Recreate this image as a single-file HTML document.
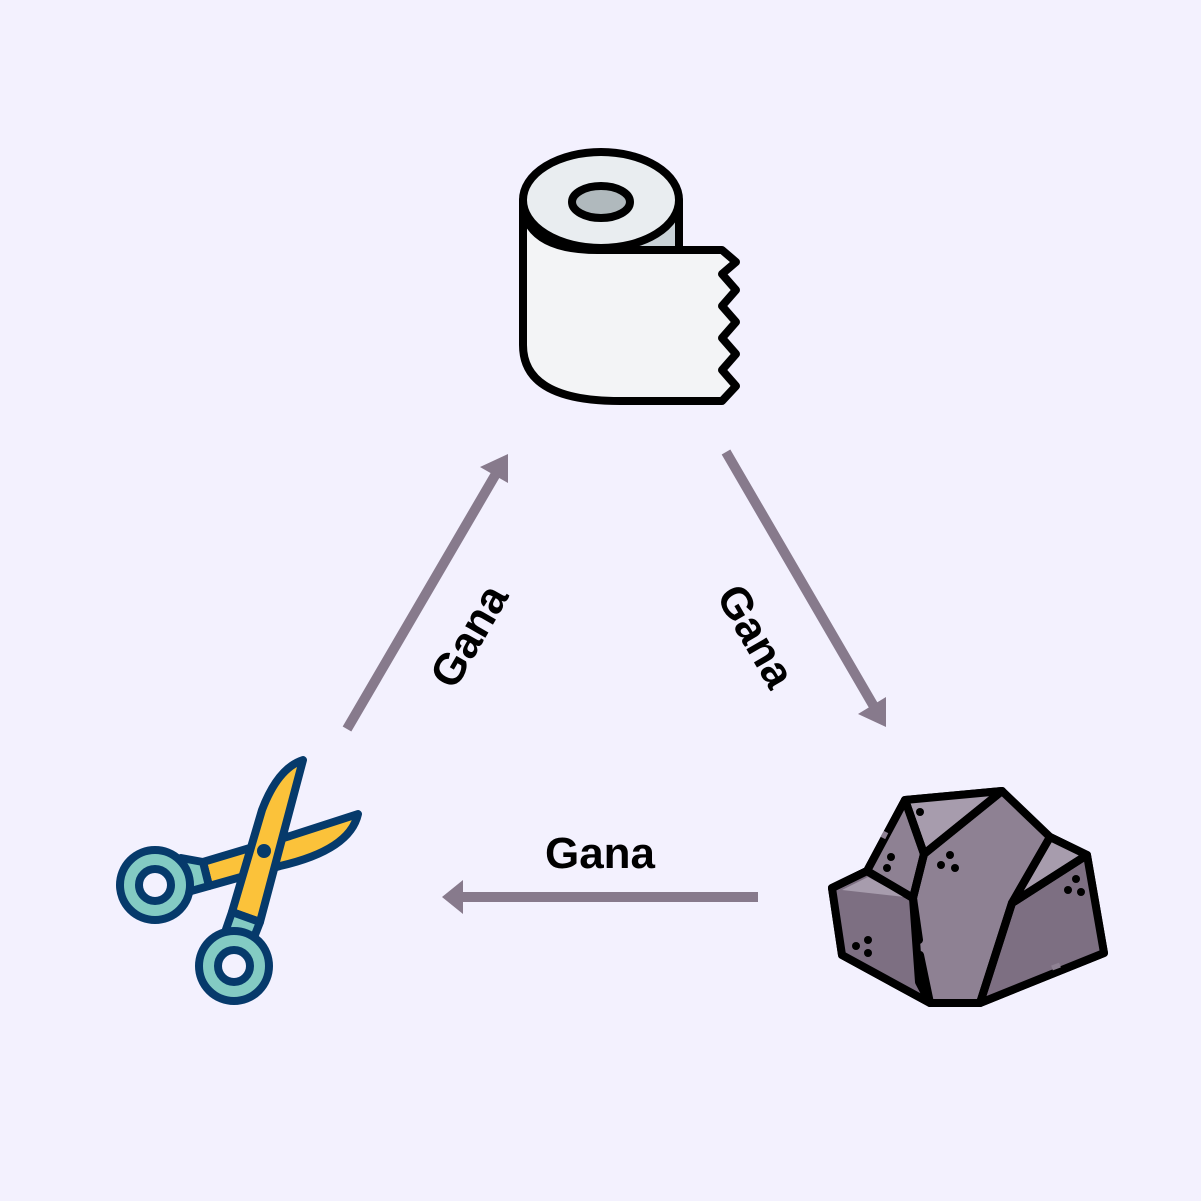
<!DOCTYPE html>
<html><head><meta charset="utf-8"><style>
html,body{margin:0;padding:0;background:#f3f1fe;}
svg{display:block}
text{font-family:"Liberation Sans",sans-serif;font-weight:bold;font-size:44px;fill:#000}
</style></head><body>
<svg width="1201" height="1201" viewBox="0 0 1201 1201" xmlns="http://www.w3.org/2000/svg">
<rect width="1201" height="1201" fill="#f3f1fe"/>
<g stroke="#877a8c" stroke-width="10" fill="#877a8c">
<line x1="347" y1="729" x2="497" y2="472"/>
<line x1="726" y1="452" x2="876" y2="710"/>
<line x1="758" y1="897" x2="458" y2="897"/>
</g>
<g fill="#877a8c">
<polygon points="508,454 508,483 480,467"/>
<polygon points="886,727 858,714 886,697"/>
<polygon points="442,897 463,880 463,914"/>
</g>
<text x="600" y="868" text-anchor="middle">Gana</text>
<text transform="translate(469,636) rotate(-60)" x="0" y="15" text-anchor="middle">Gana</text>
<text transform="translate(756,636) rotate(60)" x="0" y="15" text-anchor="middle">Gana</text>
<g stroke="#000" stroke-width="8" stroke-linejoin="round" stroke-linecap="round">
<path d="M601,200 L679,200 L679,252 L601,252 Z" fill="#c9d2d7" stroke="none"/>
<line x1="679" y1="200" x2="679" y2="250"/>
<path d="M523,200 L523,345 Q523,401 620,401 L722,401 L736,386 L722,370 L736,354 L722,338 L736,322 L722,306 L736,290 L722,274 L736,262 L722,250 L598,250 Q523,250 523,200 Z" fill="#f3f4f6"/>
<ellipse cx="601" cy="200" rx="78" ry="48" fill="#e9edf0"/>
<ellipse cx="601" cy="202" rx="29" ry="16" fill="#b0b9bd"/>
</g>
<g stroke="#000" stroke-width="8" stroke-linejoin="round" stroke-linecap="round">
<path d="M905,800 L1002,791 L1050,837 L1087,855 L1104,953 L980,1003 L930,1003 L842,955 L832,888 L867,871 L905,800 Z" fill="#8e8193"/>
<path d="M832,888 L867,871 L913,898 L919,982 L930,1003 L842,955 Z" fill="#7d6f82"/>
<path d="M1012,903 L1087,855 L1104,953 L980,1003 Z" fill="#7d6f82"/>
<path d="M905,800 L1002,791 L924,854 Z" fill="#a79cad"/>
<path d="M1050,837 L1087,855 L1012,903 Z" fill="#a79cad"/>
<path d="M905,800 L867,871 L913,898 L924,854 Z" fill="#8e8193"/>
<path d="M842,890 L868,877 L905,897 Z" fill="#a79cad" stroke="none"/>
<polyline points="832,888 867,871 913,898" fill="none"/>
<polyline points="905,800 924,854 1002,791" fill="none"/>
<polyline points="924,854 913,898 919,940" fill="none"/>
<line x1="920" y1="955" x2="930" y2="1003"/>
<polyline points="1050,837 1012,903 980,1003" fill="none"/>
<line x1="1012" y1="903" x2="1087" y2="855"/>
</g>
<g stroke="#8e8193" stroke-width="5">
<line x1="1052" y1="968" x2="1060" y2="965"/>
<line x1="883" y1="838" x2="886" y2="832"/>
</g>
<g fill="#000">
<circle cx="920" cy="812" r="4"/>
<circle cx="950" cy="855" r="4"/><circle cx="941" cy="865" r="4"/><circle cx="955" cy="868" r="4"/>
<circle cx="891" cy="857" r="4"/><circle cx="887" cy="868" r="4"/>
<circle cx="1076" cy="879" r="4"/><circle cx="1068" cy="890" r="4"/><circle cx="1081" cy="892" r="4"/>
<circle cx="868" cy="940" r="4"/><circle cx="856" cy="946" r="4"/><circle cx="868" cy="953" r="4"/>
</g>
<g stroke="#063a6b" stroke-width="8" stroke-linejoin="round" stroke-linecap="round">
<path d="M203,862 L290,836 L358,814 Q350,850 280,866 L209,886 Z" fill="#fbc23a"/>
<path d="M181,858 L203,862 L209,886 L184,893 Z" fill="#83cbc3"/>
<circle cx="155" cy="885" r="35" fill="#83cbc3"/>
<circle cx="155" cy="885" r="16" fill="#f3f1fe"/>
<path d="M232,912 L262,810 Q278,768 303,760 L260,922 Z" fill="#fbc23a"/>
<path d="M232,912 L260,922 L251,945 L223,938 Z" fill="#83cbc3"/>
<circle cx="234" cy="966" r="35" fill="#83cbc3"/>
<circle cx="234" cy="966" r="16" fill="#f3f1fe"/>
</g>
<circle cx="264" cy="851" r="7" fill="#063a6b"/>
</svg>
</body></html>
